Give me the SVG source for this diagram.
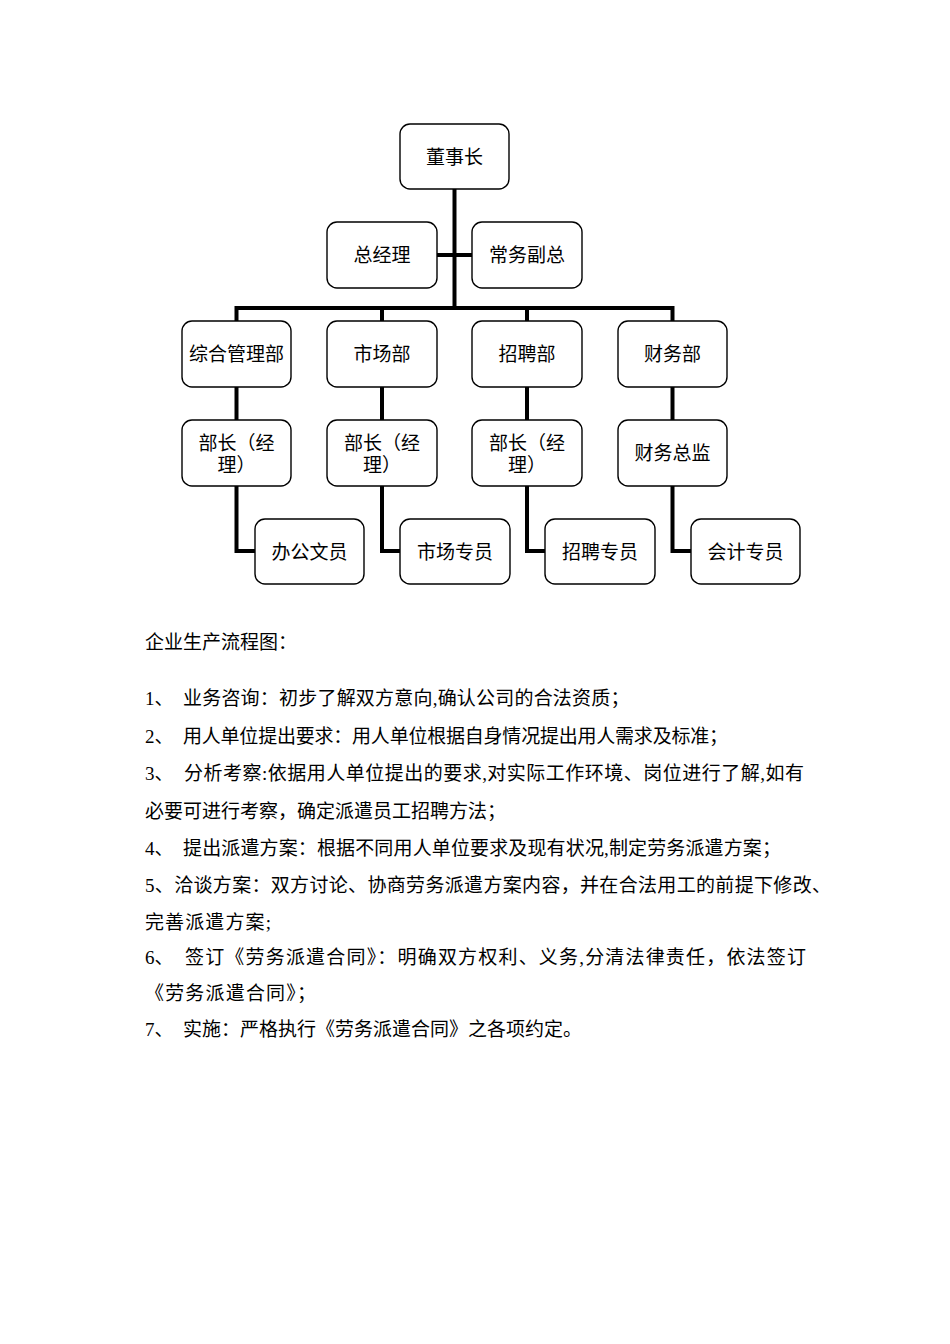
<svg xmlns="http://www.w3.org/2000/svg" width="950" height="1344" viewBox="0 0 950 1344">
<style>
.box{fill:#fff;stroke:#000;stroke-width:1.4}
.lbl{font-family:"Liberation Serif","Noto Sans CJK SC",serif;font-size:19px;fill:#000;text-anchor:middle}
.txt{font-family:"Liberation Serif","Noto Sans CJK SC",serif;font-size:19px;fill:#000}
.con{fill:none;stroke:#000;stroke-width:4;stroke-linejoin:miter;stroke-linecap:square}
</style>
<rect width="950" height="1344" fill="#fff"/>
<g id="connectors">
<polyline class="con" points="454.5,190 454.5,308"/>
<polyline class="con" points="438,255 471,255"/>
<polyline class="con" points="236.5,320 236.5,308 672.5,308 672.5,320"/>
<polyline class="con" points="382,308 382,320"/>
<polyline class="con" points="527,308 527,320"/>
<polyline class="con" points="236.5,388 236.5,419"/>
<polyline class="con" points="382,388 382,419"/>
<polyline class="con" points="527,388 527,419"/>
<polyline class="con" points="672.5,388 672.5,419"/>
<polyline class="con" points="236.5,487 236.5,551 254,551"/>
<polyline class="con" points="382,487 382,551 399,551"/>
<polyline class="con" points="527,487 527,551 544,551"/>
<polyline class="con" points="672.5,487 672.5,551 690,551"/>
</g>
<g id="n-dongshizhang"><rect class="box" x="400" y="124" width="109" height="65" rx="10"/><text class="lbl" x="454.5" y="164">董事长</text></g>
<g id="n-zongjingli"><rect class="box" x="327" y="222" width="110" height="66" rx="10"/><text class="lbl" x="382" y="262">总经理</text></g>
<g id="n-changwufuzong"><rect class="box" x="472" y="222" width="110" height="66" rx="10"/><text class="lbl" x="527" y="262">常务副总</text></g>
<g id="n-zonghe"><rect class="box" x="182" y="321" width="109" height="66" rx="10"/><text class="lbl" x="236.5" y="361">综合管理部</text></g>
<g id="n-shichang"><rect class="box" x="327" y="321" width="110" height="66" rx="10"/><text class="lbl" x="382" y="361">市场部</text></g>
<g id="n-zhaopin"><rect class="box" x="472" y="321" width="110" height="66" rx="10"/><text class="lbl" x="527" y="361">招聘部</text></g>
<g id="n-caiwu"><rect class="box" x="618" y="321" width="109" height="66" rx="10"/><text class="lbl" x="672.5" y="361">财务部</text></g>
<g id="n-buzhang1"><rect class="box" x="182" y="420" width="109" height="66" rx="10"/><text class="lbl" x="236.5" y="450">部长（经</text><text class="lbl" x="236.5" y="472">理）</text></g>
<g id="n-buzhang2"><rect class="box" x="327" y="420" width="110" height="66" rx="10"/><text class="lbl" x="382" y="450">部长（经</text><text class="lbl" x="382" y="472">理）</text></g>
<g id="n-buzhang3"><rect class="box" x="472" y="420" width="110" height="66" rx="10"/><text class="lbl" x="527" y="450">部长（经</text><text class="lbl" x="527" y="472">理）</text></g>
<g id="n-caiwuzongjian"><rect class="box" x="618" y="420" width="109" height="66" rx="10"/><text class="lbl" x="672.5" y="460">财务总监</text></g>
<g id="n-bangong"><rect class="box" x="255" y="519" width="109" height="65" rx="10"/><text class="lbl" x="309.5" y="559">办公文员</text></g>
<g id="n-shichangzy"><rect class="box" x="400" y="519" width="110" height="65" rx="10"/><text class="lbl" x="455" y="559">市场专员</text></g>
<g id="n-zhaopinzy"><rect class="box" x="545" y="519" width="110" height="65" rx="10"/><text class="lbl" x="600" y="559">招聘专员</text></g>
<g id="n-kuaiji"><rect class="box" x="691" y="519" width="109" height="65" rx="10"/><text class="lbl" x="745.5" y="559">会计专员</text></g>
<g id="body-text">
<text class="txt" x="145" y="649" textLength="152">企业生产流程图：</text>
<text class="txt" x="145" y="705">1、</text>
<text class="txt" x="183" y="705" textLength="446.5">业务咨询：初步了解双方意向,确认公司的合法资质；</text>
<text class="txt" x="145" y="743">2、</text>
<text class="txt" x="183" y="743" textLength="545">用人单位提出要求：用人单位根据自身情况提出用人需求及标准；</text>
<text class="txt" x="145" y="780">3、</text>
<text class="txt" x="184" y="780" textLength="620">分析考察:依据用人单位提出的要求,对实际工作环境、岗位进行了解,如有</text>
<text class="txt" x="145" y="818" textLength="361">必要可进行考察，确定派遣员工招聘方法；</text>
<text class="txt" x="145" y="855">4、</text>
<text class="txt" x="183" y="855" textLength="598">提出派遣方案：根据不同用人单位要求及现有状况,制定劳务派遣方案；</text>
<text class="txt" x="145" y="892" textLength="686">5、洽谈方案：双方讨论、协商劳务派遣方案内容，并在合法用工的前提下修改、</text>
<text class="txt" x="145" y="929" textLength="126">完善派遣方案;</text>
<text class="txt" x="145" y="964">6、</text>
<text class="txt" x="185" y="964" textLength="621">签订《劳务派遣合同》：明确双方权利、义务,分清法律责任，依法签订</text>
<text class="txt" x="145" y="1000" textLength="171">《劳务派遣合同》；</text>
<text class="txt" x="145" y="1036">7、</text>
<text class="txt" x="183" y="1036" textLength="399">实施：严格执行《劳务派遣合同》之各项约定。</text>
</g>
</svg>
